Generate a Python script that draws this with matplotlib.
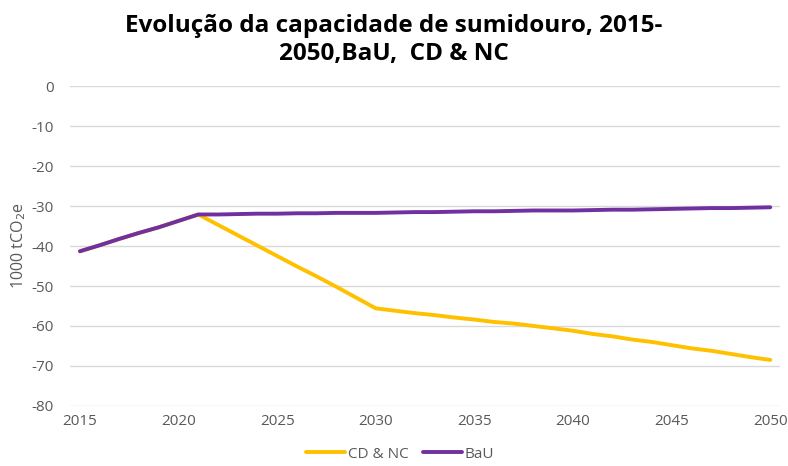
import matplotlib
matplotlib.use('Agg')
import matplotlib.pyplot as plt

plt.rcParams['font.family'] = ['Open Sans', 'DejaVu Sans']
plt.rcParams['axes.unicode_minus'] = False

# Data
years = list(range(2015, 2051))
cd_nc = [-41.3, -39.8, -38.2, -36.7, -35.3, -33.7, -32.1,
         -34.7, -37.3, -39.9, -42.5, -45.1, -47.6, -50.2, -52.9, -55.6,
         -56.2, -56.8, -57.3, -57.9, -58.4, -59.0, -59.4, -60.0, -60.6, -61.2,
         -62.0, -62.6, -63.4, -64.0, -64.8, -65.6, -66.2, -67.0, -67.8, -68.5]
bau = [-41.3, -39.8, -38.2, -36.7, -35.3, -33.7, -32.1,
       -32.1, -32.0, -31.9, -31.9, -31.8, -31.8, -31.7, -31.7, -31.7,
       -31.6, -31.5, -31.5, -31.4, -31.3, -31.3, -31.2, -31.1, -31.1, -31.1,
       -31.0, -30.9, -30.9, -30.8, -30.7, -30.6, -30.5, -30.5, -30.4, -30.3]
xtick_years = [2015, 2020, 2025, 2030, 2035, 2040, 2045, 2050]
yticks = [0, -10, -20, -30, -40, -50, -60, -70, -80]

fig = plt.figure(figsize=(7.88, 4.66), dpi=100)
ax = fig.add_axes([0.089, 0.129, 0.901, 0.686])

ax.plot(years, cd_nc, color='#FFC000', linewidth=2.8, label='CD & NC', solid_capstyle='round')
ax.plot(years, bau, color='#7030A0', linewidth=2.8, label='BaU', solid_capstyle='round')

ax.set_xlim(2014.5, 2050.5)
ax.set_ylim(-80, 0)
ax.set_xticks(xtick_years)
ax.set_yticks(yticks)
ax.tick_params(axis='both', length=0, labelsize=11, labelcolor='#595959')
ax.tick_params(axis='x', pad=6)
ax.tick_params(axis='y', pad=12)
ax.grid(axis='y', color='#D9D9D9', linewidth=1)
ax.set_axisbelow(True)
for s in ax.spines.values():
    s.set_visible(False)

ax.set_ylabel('1000 tCO$_2$e', fontsize=11.5, color='#595959', labelpad=2)

fig.suptitle('Evolução da capacidade de sumidouro, 2015-\n2050,BaU,  CD & NC',
             fontsize=17.5, fontweight='bold', y=0.97, color='#000000', linespacing=1.2)

ax.legend(loc='upper center', bbox_to_anchor=(0.465, -0.085), ncol=2, frameon=False,
          fontsize=11, handlelength=2.5, handletextpad=0.2, columnspacing=1.0,
          labelcolor='#595959')

fig.savefig('out.png', dpi=100)
